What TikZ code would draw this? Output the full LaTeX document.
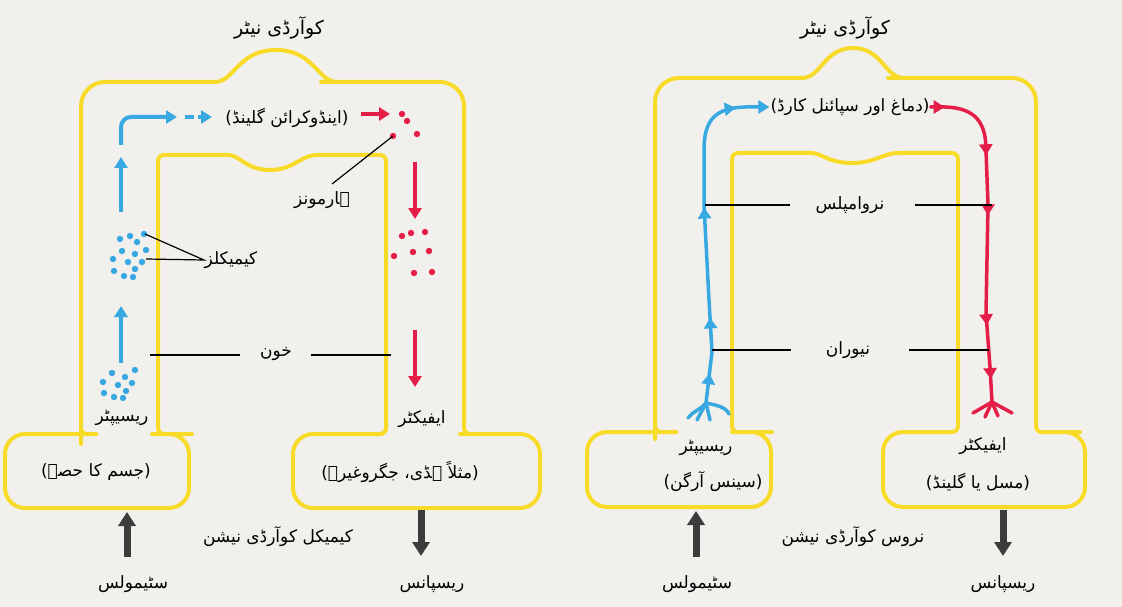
\documentclass[tikz,border=0pt]{standalone}
\usepackage{fontspec}
\newfontfamily\urdu[Script=Arabic]{DejaVu Sans}
\TeXXeTstate=1
\usetikzlibrary{arrows.meta,decorations.markings}
\definecolor{yel}{RGB}{248,218,40}
\definecolor{bl}{RGB}{55,168,225}
\definecolor{rd}{RGB}{228,30,72}
\definecolor{dk}{RGB}{60,60,60}
\definecolor{paper}{RGB}{242,240,236}
\newcommand{\urt}[1]{\beginR #1\endR}
\begin{document}
\begin{tikzpicture}[x=1pt,y=-1pt,
  frame/.style={draw=yel,line width=4pt,line join=round},
  lbl/.style={inner sep=1pt,font=\urdu\fontsize{17}{20}\selectfont},
  ttl/.style={inner sep=1pt,font=\urdu\fontsize{19}{22}\selectfont},
  bar/.style={draw=black,line width=1.2pt},
  barrow/.style={draw=bl,line width=4pt,-{Triangle[width=13pt,length=11pt]}},
  rarrow/.style={draw=rd,line width=4pt,-{Triangle[width=13pt,length=11pt]}},
  dkarrow/.style={draw=dk,line width=7pt,-{Triangle[width=17pt,length=14pt]}},
  nerveb/.style={draw=bl,line width=3.5pt,line cap=round},
  nerver/.style={draw=rd,line width=3.5pt,line cap=round}
]
\fill[paper] (0,0) rectangle (1122,607);
\useasboundingbox (0,0) rectangle (1122,607);

% ================= LEFT: chemical coordination =================
\draw[frame, rounded corners=20pt]
 (100,434) -- (5,434) -- (5,508) -- (189,508) -- (189,434) -- (172,434)
 [rounded corners=6pt] -- (158,434) -- (158,155) -- (222,155)
 [sharp corners] .. controls (240,155) and (246,170) .. (270,170)
 .. controls (294,170) and (300,155) .. (318,155)
 [rounded corners=6pt] -- (386,155) -- (386,434) -- (370,434)
 [rounded corners=20pt] -- (293,434) -- (293,508) -- (540,508) -- (540,434) -- (480,434)
 [rounded corners=6pt] -- (464,434) -- (464,110)
 [rounded corners=24pt] -- (464,82) -- (345,82)
 [sharp corners] -- (337,82) .. controls (318,82) and (314,50) .. (276,50)
 .. controls (238,50) and (234,82) .. (215,82) -- (205,82)
 [rounded corners=24pt] -- (81,82) -- (81,420)
 [rounded corners=6pt] -- (81,434) -- cycle;

\node[ttl] (ttlL) at (279,28) {\urt{کوآرڈی نیٹر}};
\node[lbl] (endo) at (287,118) {\urt{(اینڈوکرائن گلینڈ)}};
\node[lbl] (horm) at (322,200) {\urt{ہارمونز}};
\node[lbl] (chem) at (231,260) {\urt{کیمیکلز}};
\node[lbl] (blood) at (276,354) {\urt{خون}};
\node[lbl] (recL) at (122,418) {\urt{ریسیپٹر}};
\node[lbl] (recLs) at (96,472) {\urt{(جسم کا حصہ)}};
\node[lbl] (effL) at (422,419) {\urt{ایفیکٹر}};
\node[lbl] (effLs) at (400,472) {\urt{(مثلاً ہڈی، جگروغیرہ)}};
\node[lbl] (chco) at (278,537) {\urt{کیمیکل کوآرڈی نیشن}};
\node[lbl] (stimL) at (133,584) {\urt{سٹیمولس}};
\node[lbl] (respL) at (432,584) {\urt{ریسپانس}};

% blue arrows
\coordinate (bU1) at (121,212); \coordinate (bU2) at (121,157);
\draw[barrow] (bU1) -- (bU2);
\coordinate (bL1) at (121,145); \coordinate (bL2) at (177,117);
\draw[barrow, rounded corners=10pt] (bL1) |- (bL2);
\coordinate (bD1) at (185,117); \coordinate (bD2) at (212,117);
\draw[barrow, dash pattern=on 9pt off 4pt] (bD1) -- (bD2);
\coordinate (bU3) at (121,363); \coordinate (bU4) at (121,306);
\draw[barrow] (bU3) -- (bU4);

% blue dots
\foreach \p in {(120,239),(130,236),(144,234),(137,242),(122,251),(135,254),(146,250),(113,259),(128,262),(142,262),(135,269),(114,271),(124,276),(133,277)}
  \fill[bl] \p circle (3.2pt);
\foreach \p in {(112,373),(125,377),(135,370),(103,382),(118,385),(132,383),(104,393),(126,391),(114,397),(123,398)}
  \fill[bl] \p circle (3.2pt);

% red arrows
\coordinate (rA1) at (361,114); \coordinate (rA2) at (390,114);
\draw[rarrow] (rA1) -- (rA2);
\coordinate (rB1) at (415,162); \coordinate (rB2) at (415,219);
\draw[rarrow] (rB1) -- (rB2);
\coordinate (rC1) at (415,330); \coordinate (rC2) at (415,387);
\draw[rarrow] (rC1) -- (rC2);

% red dots
\foreach \p in {(402,114),(407,121),(393,136),(417,134)}
  \fill[rd] \p circle (3.2pt);
\foreach \p in {(402,236),(411,233),(425,232),(394,256),(413,252),(429,251),(414,273),(432,272)}
  \fill[rd] \p circle (3.2pt);

% leader lines
\coordinate (hd) at (393,136); \coordinate (hl) at (332,184);
\draw[bar] (hd) -- (hl);
\coordinate (cd1) at (145,234); \coordinate (cd2) at (146,259); \coordinate (cm) at (204,260);
\draw[bar] (cd1) -- (cm) -- (cd2);
\coordinate (kL) at (150,355); \coordinate (kLe) at (240,355);
\coordinate (kRe) at (311,355); \coordinate (kR) at (391,355);
\draw[bar] (kL) -- (kLe);
\draw[bar] (kRe) -- (kR);

% stimulus / response
\coordinate (sL1) at (127,557); \coordinate (sL2) at (127,512);
\draw[dkarrow] (sL1) -- (sL2);
\coordinate (rL1) at (421,510); \coordinate (rL2) at (421,556);
\draw[dkarrow] (rL1) -- (rL2);

% ================= RIGHT: nervous coordination =================
\draw[frame, rounded corners=20pt]
 (680,432) -- (587,432) -- (587,507) -- (771,507) -- (771,432) -- (752,432)
 [rounded corners=6pt] -- (732,432) -- (732,153) -- (805,153)
 [sharp corners] .. controls (822,153) and (828,163) .. (852,163)
 .. controls (876,163) and (882,153) .. (899,153)
 [rounded corners=6pt] -- (958,153) -- (958,432) -- (940,432)
 [rounded corners=20pt] -- (883,432) -- (883,507) -- (1085,507) -- (1085,432) -- (1060,432)
 [rounded corners=6pt] -- (1036,432) -- (1036,110)
 [rounded corners=24pt] -- (1036,78) -- (912,78)
 [sharp corners] -- (904,78) .. controls (885,78) and (882,48) .. (853,48)
 .. controls (824,48) and (821,78) .. (802,78) -- (792,78)
 [rounded corners=24pt] -- (655,78) -- (655,415)
 [rounded corners=6pt] -- (655,432) -- cycle;

\node[ttl] (ttlR) at (845,28) {\urt{کوآرڈی نیٹر}};
\node[lbl] (brain) at (850,107) {\urt{(دماغ اور سپائنل کارڈ)}};
\node[lbl] (nimp) at (850,205) {\urt{نروامپلس}};
\node[lbl] (neur) at (848,350) {\urt{نیوران}};
\node[lbl] (recR) at (706,448) {\urt{ریسیپٹر}};
\node[lbl] (recRs) at (713,482) {\urt{(سینس آرگن)}};
\node[lbl] (effR) at (983,446) {\urt{ایفیکٹر}};
\node[lbl] (effRs) at (978,482) {\urt{(مسل یا گلینڈ)}};
\node[lbl] (nvco) at (853,537) {\urt{نروس کوآرڈی نیشن}};
\node[lbl] (stimR) at (697,584) {\urt{سٹیمولس}};
\node[lbl] (respR) at (1003,584) {\urt{ریسپانس}};

% blue nerve
\coordinate (bf) at (706,403);
\draw[nerveb, postaction={decorate, decoration={markings,
   mark=at position 30pt with {\arrow{Triangle[width=13pt,length=11pt]}},
   mark=at position 86pt with {\arrow{Triangle[width=13pt,length=11pt]}},
   mark=at position 196pt with {\arrow{Triangle[width=13pt,length=11pt]}},
   mark=at position 313pt with {\arrow{Triangle[width=13pt,length=11pt]}}}},
   -{Triangle[width=13pt,length=11pt]}]
  (bf) -- (712,352) -- (709,300) -- (704,205) -- (704,150)
  .. controls (704,120) and (715,108) .. (745,107) -- (brain.west);
\draw[nerveb] (bf) .. controls (700,410) and (692,412) .. (688,418);
\draw[nerveb] (bf) -- (697,420);
\draw[nerveb] (bf) -- (710,420);
\draw[nerveb] (bf) .. controls (716,405) and (726,407) .. (729,414);

% red nerve
\coordinate (rf) at (992,402);
\draw[nerver, postaction={decorate, decoration={markings,
   mark=at position 14pt with {\arrow{Triangle[width=13pt,length=11pt]}},
   mark=at position 88pt with {\arrow{Triangle[width=13pt,length=11pt]}},
   mark=at position 148pt with {\arrow{Triangle[width=13pt,length=11pt]}},
   mark=at position 258pt with {\arrow{Triangle[width=13pt,length=11pt]}},
   mark=at position 312pt with {\arrow{Triangle[width=13pt,length=11pt]}}}}]
  (brain.east) -- (945,107) .. controls (975,108) and (986,122) .. (986,150)
  -- (988,205) -- (986,313) -- (990,367) -- (rf);
\draw[nerver] (rf) -- (973,413);
\draw[nerver] (rf) -- (985,417);
\draw[nerver] (rf) -- (998,416);
\draw[nerver] (rf) -- (1012,413);

% leader lines
\coordinate (n1) at (705,205); \coordinate (n1e) at (790,205);
\coordinate (n2e) at (915,205); \coordinate (n2) at (992,205);
\draw[bar] (n1) -- (n1e);
\draw[bar] (n2e) -- (n2);
\coordinate (n3) at (712,350); \coordinate (n3e) at (791,350);
\coordinate (n4e) at (909,350); \coordinate (n4) at (989,350);
\draw[bar] (n3) -- (n3e);
\draw[bar] (n4e) -- (n4);

\coordinate (sR1) at (696,557); \coordinate (sR2) at (696,511);
\draw[dkarrow] (sR1) -- (sR2);
\coordinate (rR1) at (1003,510); \coordinate (rR2) at (1003,556);
\draw[dkarrow] (rR1) -- (rR2);
\end{tikzpicture}
\end{document}
